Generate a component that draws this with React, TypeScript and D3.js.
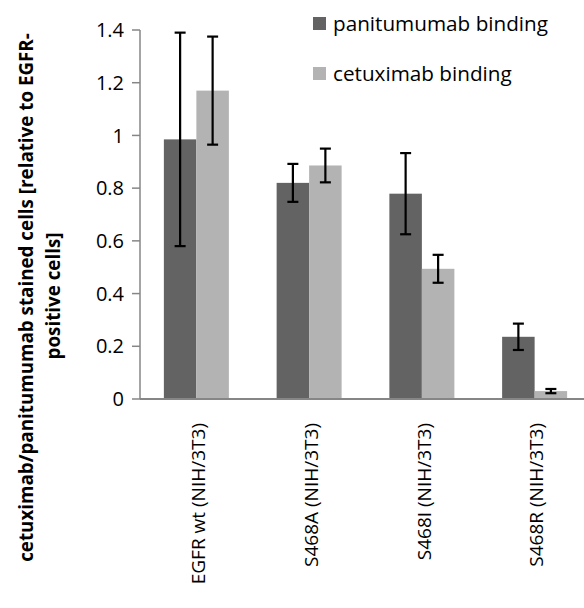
import React from "react";
import * as d3 from "d3";

const categories = ["EGFR wt (NIH/3T3)", "S468A (NIH/3T3)", "S468I (NIH/3T3)", "S468R (NIH/3T3)"];
const seriesNames = ["panitumumab binding", "cetuximab binding"];
const panitumumab = [0.985, 0.82, 0.779, 0.236];
const panitumumabErr = [0.405, 0.072, 0.154, 0.05];
const cetuximab = [1.17, 0.886, 0.494, 0.03];
const cetuximabErr = [0.205, 0.064, 0.053, 0.008];
const yTicks = [0, 0.2, 0.4, 0.6, 0.8, 1, 1.2, 1.4];
const yTitle1 = "cetuximab/panitumumab stained cells [relative to EGFR-";
const yTitle2 = "positive cells]";

const W = 584;
const H = 608;
const colors = ["#636363", "#b3b3b3"];
const axisColor = "#868686";
const FONT = "'Open Sans', 'Noto Sans', sans-serif";

export default function App() {
  const x = d3.scaleBand<string>().domain(categories).range([140, 591]).padding(0);
  const y = d3.scaleLinear().domain([0, 1.4]).range([399, 30]);
  const groupW = 65;
  const barW = groupW / 2;
  const series = [
    { vals: panitumumab, errs: panitumumabErr },
    { vals: cetuximab, errs: cetuximabErr },
  ];
  const capHalf = 5.5;

  return (
    <svg width={W} height={H} style={{ position: "absolute", left: 0, top: 0, background: "#fff" }} fontFamily={FONT}>
      <rect x={0} y={0} width={W} height={H} fill="#fff" />
      {series.map((s, si) =>
        categories.map((c, i) => {
          const cx = (x(c) as number) + x.bandwidth() / 2;
          const x0 = cx - groupW / 2 + si * barW;
          return (
            <rect key={`b${si}-${i}`} x={x0} y={y(s.vals[i])} width={barW} height={y(0) - y(s.vals[i])} fill={colors[si]} />
          );
        })
      )}
      <line x1={140} x2={140} y1={30} y2={399} stroke={axisColor} strokeWidth={1.5} />
      {yTicks.map((t) => (
        <g key={`t${t}`}>
          <line x1={132} x2={140} y1={y(t)} y2={y(t)} stroke={axisColor} strokeWidth={1.5} />
          <text x={124} y={y(t)} dy="0.36em" textAnchor="end" fontSize={20} fill="#000">
            {d3.format("~g")(t)}
          </text>
        </g>
      ))}
      <line x1={140} x2={591} y1={399} y2={399} stroke={axisColor} strokeWidth={2} />
      {series.map((s, si) =>
        categories.map((c, i) => {
          const cx = (x(c) as number) + x.bandwidth() / 2;
          const bx = cx - groupW / 2 + si * barW + barW / 2;
          const top = y(s.vals[i] + s.errs[i]);
          const bot = y(s.vals[i] - s.errs[i]);
          return (
            <g key={`e${si}-${i}`} stroke="#000" strokeWidth={2.2}>
              <line x1={bx} x2={bx} y1={top} y2={bot} />
              <line x1={bx - capHalf} x2={bx + capHalf} y1={top} y2={top} />
              <line x1={bx - capHalf} x2={bx + capHalf} y1={bot} y2={bot} />
            </g>
          );
        })
      )}
      {categories.map((c) => {
        const cx = (x(c) as number) + x.bandwidth() / 2 + 2;
        return (
          <text key={c} transform={`translate(${cx},423) rotate(-90)`} dy="0.35em" textAnchor="end" fontSize={19} fill="#000">
            {c}
          </text>
        );
      })}
      <text transform={`translate(33,297.5) rotate(-90)`} textAnchor="middle" fontSize={18.8} fontWeight="bold" fill="#000">
        {yTitle1}
      </text>
      <text transform={`translate(60,296) rotate(-90)`} textAnchor="middle" fontSize={18.8} fontWeight="bold" fill="#000">
        {yTitle2}
      </text>
      {seriesNames.map((n, i) => (
        <g key={n} transform={`translate(313,${17 + i * 50})`}>
          <rect x={0} y={0} width={13} height={13} fill={colors[i]} />
          <text x={20} y={6.5} dy="0.35em" fontSize={20.7} fill="#000">
            {n}
          </text>
        </g>
      ))}
    </svg>
  );
}
